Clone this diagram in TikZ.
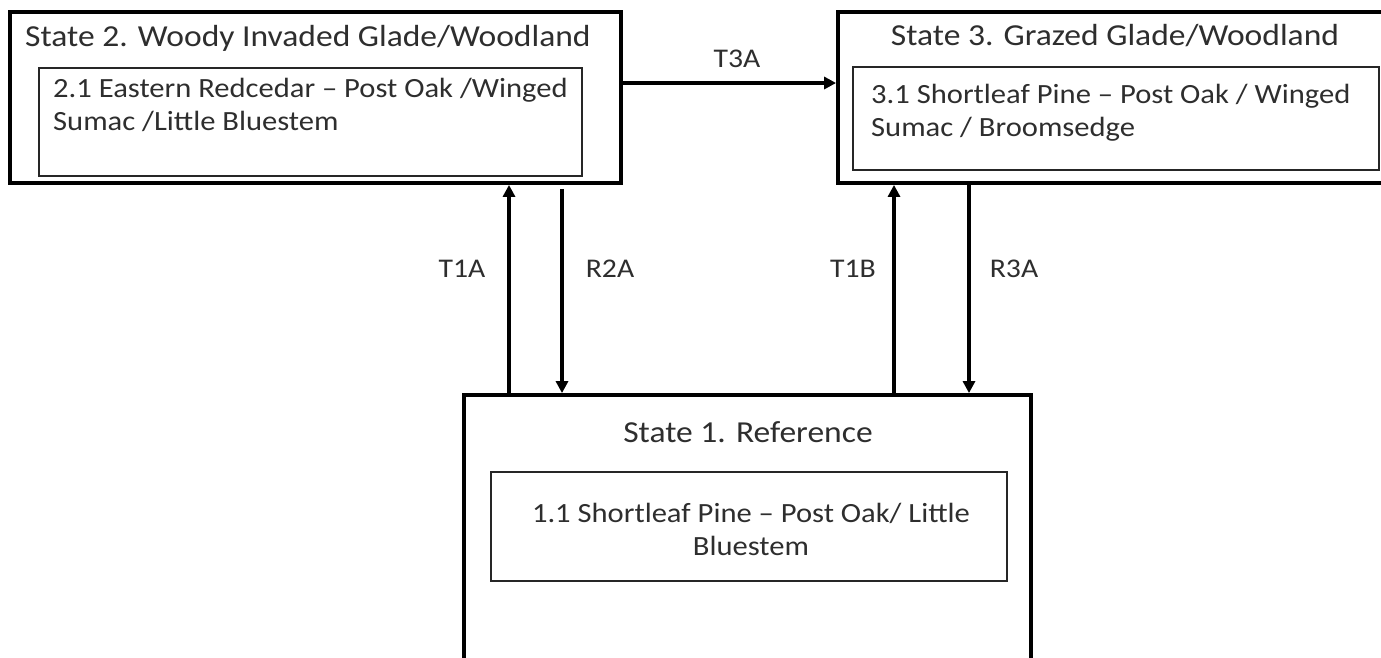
\documentclass[tikz,border=0pt]{standalone}
\usepackage{fontspec}
\setmainfont{Carlito}[FakeStretch=1.1]
\usetikzlibrary{arrows.meta}
\definecolor{txt}{HTML}{2E2E2E}
\tikzset{
  outerbox/.style={draw=black, line width=3.8pt, rectangle, inner sep=0pt},
  innerbox/.style={draw=black!85, line width=2pt, rectangle, inner sep=0pt},
  ttl/.style={text=txt, font=\fontsize{30.5}{36}\selectfont, inner sep=0pt},
  sub/.style={text=txt, font=\fontsize{27.8}{33}\selectfont, inner sep=0pt},
  lbl/.style={text=txt, font=\fontsize{27}{32}\selectfont, inner sep=0pt, anchor=base},
  arr/.style={line width=3.4pt, -{Triangle[length=12pt,width=12pt]}},
}
\begin{document}
\begin{tikzpicture}[x=1pt, y=-1pt]
\path[use as bounding box, clip] (0,0) rectangle (1381,657);
\fill[white] (0,0) rectangle (1381,657);
% State 2
\node[outerbox, minimum width=611pt, minimum height=171pt] (s2) at (315.5,97.5) {};
\node[innerbox, minimum width=543pt, minimum height=108pt] (s2i) at (310.5,122) {};
\node[ttl, anchor=base west] (s2t) at (25,46) {State 2. Woody Invaded Glade/Woodland};
\node[sub, anchor=base west] (s2a) at (53,97) {2.1 Eastern Redcedar -- Post Oak /Winged};
\node[sub, anchor=base west] (s2b) at (53,130) {Sumac /Little Bluestem};
% State 3
\node[outerbox, minimum width=556pt, minimum height=171pt] (s3) at (1116,97.5) {};
\node[innerbox, minimum width=526pt, minimum height=103pt] (s3i) at (1116,118.5) {};
\node[ttl, anchor=base] (s3t) at (1115,45) {State 3. Grazed Glade/Woodland};
\node[sub, anchor=base west] (s3a) at (871,103) {3.1 Shortleaf Pine -- Post Oak / Winged};
\node[sub, anchor=base west] (s3b) at (871,136) {Sumac / Broomsedge};
% State 1
\node[outerbox, minimum width=567pt, minimum height=290pt] (s1) at (747.5,540) {};
\node[innerbox, minimum width=516pt, minimum height=109pt] (s1i) at (749,526.5) {};
\node[ttl, anchor=base] (s1t) at (748,442) {State 1. Reference};
\node[sub, anchor=base] (s1a) at (751,522) {1.1 Shortleaf Pine -- Post Oak/ Little};
\node[sub, anchor=base] (s1b) at (751,555) {Bluestem};
% Arrows
\draw[arr] (s2.east |- 0,83) -- (s3.west |- 0,83);
\draw[arr] (s1.north -| 509,0) -- (s2.south -| 509,0);
\draw[arr, shorten <=4pt] (s2.south -| 562,0) -- (s1.north -| 562,0);
\draw[arr] (s1.north -| 894,0) -- (s3.south -| 894,0);
\draw[arr] (s3.south -| 969,0) -- (s1.north -| 969,0);
% Labels
\node[lbl] (lt3a) at (737,67) {T3A};
\node[lbl] (lt1a) at (462,277) {T1A};
\node[lbl] (lr2a) at (610,277) {R2A};
\node[lbl] (lt1b) at (853,277) {T1B};
\node[lbl] (lr3a) at (1014,277) {R3A};
\end{tikzpicture}
\end{document}
